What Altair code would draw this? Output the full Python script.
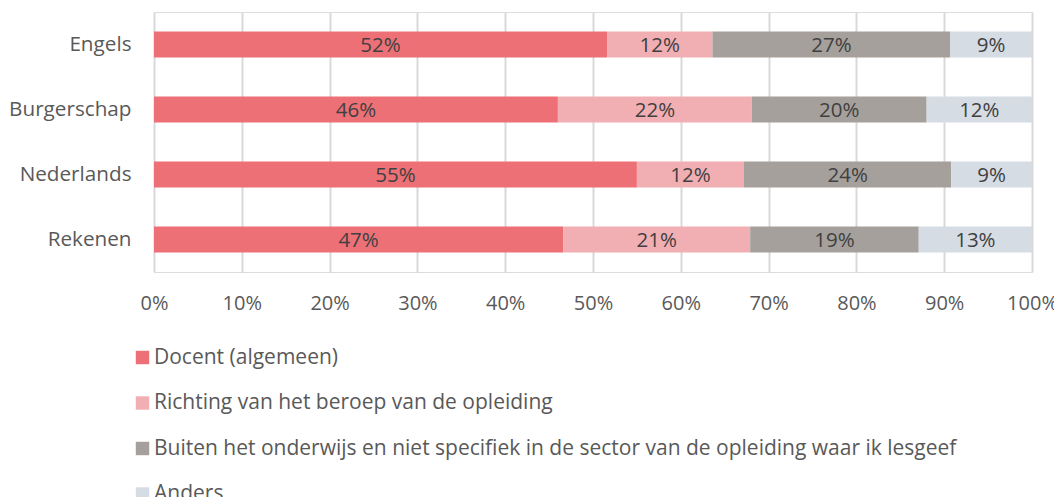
import altair as alt
import pandas as pd

subjects = ["Engels", "Burgerschap", "Nederlands", "Rekenen"]
categories = [
    "Docent (algemeen)",
    "Richting van het beroep van de opleiding",
    "Buiten het onderwijs en niet specifiek in de sector van de opleiding waar ik lesgeef",
    "Anders",
]
docent = [0.516, 0.460, 0.550, 0.466]
richting = [0.120, 0.221, 0.122, 0.213]
buiten = [0.271, 0.199, 0.236, 0.192]
anders = [0.093, 0.120, 0.092, 0.129]
colors = ["#EE7077", "#F2AFB3", "#A5A09C", "#D6DCE4"]
x_ticks = [0, 0.1, 0.2, 0.3, 0.4, 0.5, 0.6, 0.7, 0.8, 0.9, 1.0]

rows = []
for ci, (cat, vals) in enumerate(zip(categories, [docent, richting, buiten, anders])):
    for s, v in zip(subjects, vals):
        rows.append({"subject": s, "category": cat, "order": ci, "value": v})
df = pd.DataFrame(rows)

FONT = "Open Sans"
TXT = "#595959"

base = alt.Chart(df).transform_stack(
    stack="value",
    as_=["start", "end"],
    groupby=["subject"],
    sort=[alt.SortField("order", order="ascending")],
).transform_calculate(mid="(datum.start + datum.end) / 2")

y_enc = alt.Y(
    "subject:N",
    sort=subjects,
    title=None,
    scale=alt.Scale(paddingInner=0.6, paddingOuter=0.3),
    axis=alt.Axis(domain=False, ticks=False, labelPadding=23, labelFontSize=20.7,
                  labelColor=TXT, labelFont=FONT),
)

bars = base.mark_bar().encode(
    x=alt.X(
        "start:Q",
        title=None,
        scale=alt.Scale(domain=[0, 1], nice=False),
        axis=alt.Axis(values=x_ticks, format=".0%", domain=False, ticks=False,
                      grid=True, gridColor="#D9D9D9", gridWidth=2,
                      labelPadding=21, labelFontSize=20, labelColor=TXT,
                      labelFont=FONT, labelFlush=False),
    ),
    x2="end:Q",
    y=y_enc,
    color=alt.Color(
        "category:N",
        scale=alt.Scale(domain=categories, range=colors),
        sort=categories,
        legend=alt.Legend(
            title=None, orient="none", legendX=-22, legendY=335,
            direction="vertical", symbolType="square", symbolSize=180,
            symbolStrokeWidth=0, labelFontSize=21, labelColor=TXT,
            labelFont=FONT, labelLimit=1000, rowPadding=23.5, labelOffset=1,
        ),
    ),
    order=alt.Order("order:Q"),
)

labels = base.mark_text(fontSize=20.5, color="#404040", font=FONT, baseline="middle",
                        dy=1).encode(
    x=alt.X("mid:Q"),
    y=alt.Y("subject:N", sort=subjects),
    text=alt.Text("value:Q", format=".0%"),
)

chart = (
    alt.layer(bars, labels)
    .properties(
        width=878,
        height=260,
        autosize=alt.AutoSizeParams(type="none"),
        padding={"left": 146, "top": 4, "right": 22, "bottom": 230},
    )
    .configure_view(stroke=None)
    .configure(font=FONT)
)

chart.save("out.html", embed_options={"renderer": "svg", "actions": False})
